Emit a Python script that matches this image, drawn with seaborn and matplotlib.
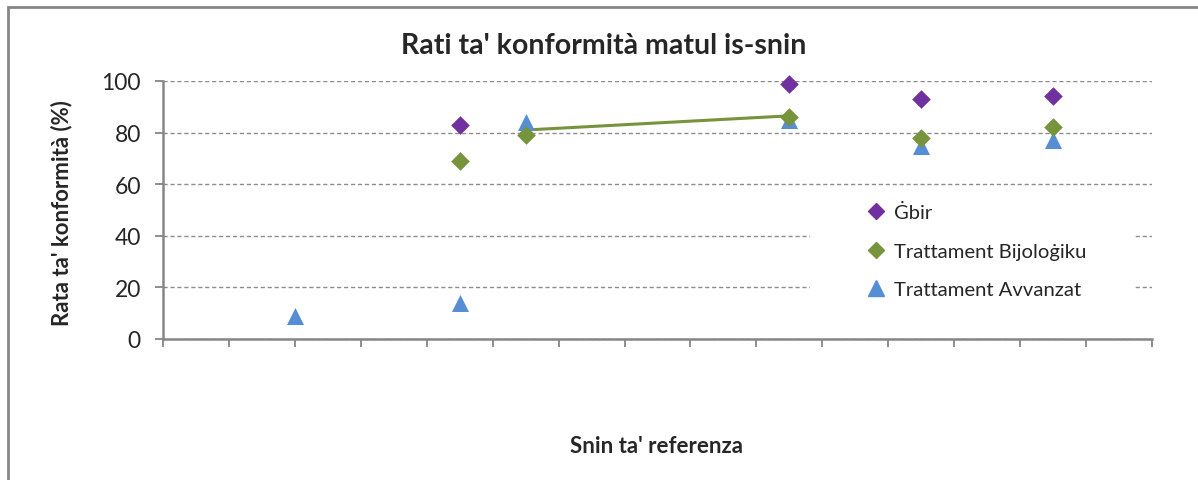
import pandas as pd
import seaborn as sns
import matplotlib.pyplot as plt
from matplotlib.patches import Rectangle
from matplotlib.lines import Line2D

# data (x = position on the unlabelled year axis)
gbir_x = [4.5, 9.5, 11.5, 13.5]
gbir_y = [83, 99, 93, 94]

bio_x = [4.5, 5.5, 9.5, 11.5, 13.5]
bio_y = [69, 79, 86, 78, 82]

adv_x = [2, 4.5, 5.5, 9.5, 11.5, 13.5]
adv_y = [9, 14, 84, 85, 75, 77]

# green connecting line
line_x = [5.5, 9.5]
line_y = [81, 86.5]

labels = ["Ġbir", "Trattament Bijoloġiku", "Trattament Avvanzat"]
colors = ["#7030A0", "#77933C", "#558ED5"]
markers = ["D", "D", "^"]

sns.set_style("white")
plt.rcParams['font.family'] = ['Lato', 'Noto Sans', 'DejaVu Sans']

fig = plt.figure(figsize=(11.98, 4.81), dpi=100)
ax = fig.add_axes([163/1198, 1 - 340/481, (1152-163)/1198, (340-82)/481])

df_g = pd.DataFrame({"x": gbir_x, "y": gbir_y})
df_b = pd.DataFrame({"x": bio_x, "y": bio_y})
df_a = pd.DataFrame({"x": adv_x, "y": adv_y})
df_l = pd.DataFrame({"x": line_x, "y": line_y})

sns.lineplot(data=df_l, x="x", y="y", color=colors[1], linewidth=2.2, ax=ax, zorder=3)
sns.scatterplot(data=df_a, x="x", y="y", color=colors[2], marker="^", s=150,
                linewidth=0, ax=ax, zorder=4, clip_on=False)
sns.scatterplot(data=df_b, x="x", y="y", color=colors[1], marker="D", s=90,
                linewidth=0, ax=ax, zorder=5, clip_on=False)
sns.scatterplot(data=df_g, x="x", y="y", color=colors[0], marker="D", s=90,
                linewidth=0, ax=ax, zorder=5, clip_on=False)

ax.set_xlim(0, 15)
ax.set_ylim(0, 100)
ax.set_xticks(range(0, 16))
ax.set_xticklabels([])
ax.set_yticks([0, 20, 40, 60, 80, 100])
ax.tick_params(axis="both", direction="out", length=6, width=1.3, color="#868686",
               left=True, bottom=True)
ax.tick_params(axis="y", labelsize=16.5, pad=10)
ax.yaxis.grid(True, linestyle=(0, (3, 2)), color="#8c8c8c", linewidth=1)
ax.xaxis.grid(False)
ax.set_axisbelow(True)
for side in ["top", "right"]:
    ax.spines[side].set_visible(False)
for side in ["left", "bottom"]:
    ax.spines[side].set_color("#868686")
    ax.spines[side].set_linewidth(1.8)

ax.set_xlabel("")
ax.set_ylabel("")
fig.text(657/1198, 1 - 447/481, "Snin ta' referenza", ha="center", va="center",
         fontsize=16, fontweight="bold")
fig.text(62/1198, 1 - 213/481, "Rata ta' konformità (%)", ha="center", va="center",
         rotation=90, fontsize=16, fontweight="bold")
fig.text(604/1198, 1 - 46/481, "Rati ta' konformità matul is-snin", ha="center", va="center",
         fontsize=20.5, fontweight="bold")

# white box behind the legend hides the gridlines
ax.add_patch(Rectangle((0.654, 0.13), 0.327, 0.45, transform=ax.transAxes,
                       facecolor="white", edgecolor="none", zorder=1))

handles = [Line2D([], [], linestyle="none", marker=m, color=c,
                  markersize=(8 if m == "D" else 11)) for m, c in zip(markers, colors)]
ax.legend(handles, labels, loc="upper left", bbox_to_anchor=(0.705, 0.565),
          frameon=False, fontsize=14.6, handlelength=0.6, handletextpad=0.55,
          labelspacing=1.05, borderpad=0)

# outer chart border
fig.patches.append(Rectangle((8/1198, -0.1), 1.2, 1 - 8/481 + 0.1, transform=fig.transFigure,
                             fill=False, edgecolor="#868686", linewidth=2))

fig.savefig("out.png", dpi=100)
